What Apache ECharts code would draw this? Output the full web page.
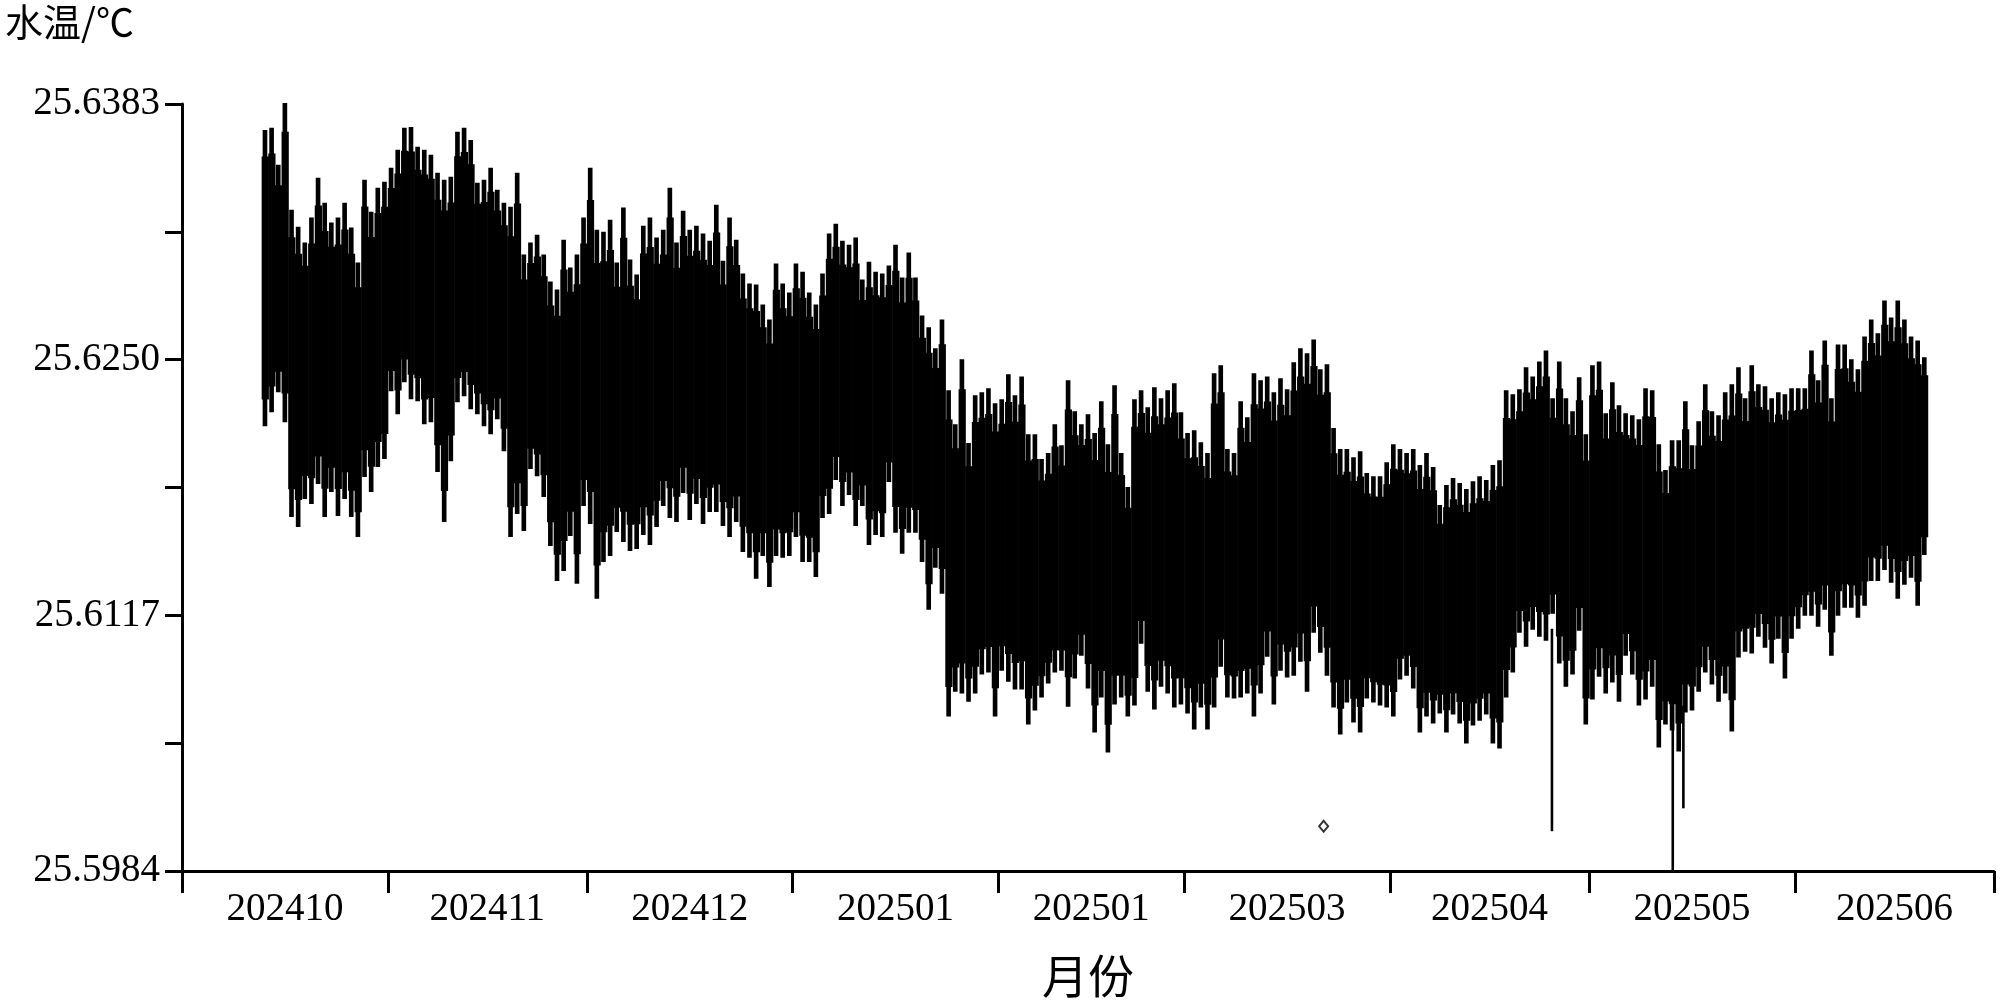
<!DOCTYPE html>
<html>
<head>
<meta charset="utf-8">
<title>水温</title>
<script src="https://cdn.jsdelivr.net/npm/echarts@6/dist/echarts.min.js"></script>
<style>
  html, body { margin: 0; padding: 0; background: #fff; }
  #chart { width: 2000px; height: 1004px; }
</style>
</head>
<body>
<div id="chart"></div>
<script>
// x axis is in days counted from 2024-10-01
var monthEdges = [0, 31, 61, 92, 123, 151, 182, 212, 243, 273]
var monthMids = [15.5, 46, 76.5, 107.5, 137, 166.5, 197, 227.5, 258]
var monthLabels = ['202410', '202411', '202412', '202501', '202501', '202503', '202504', '202505', '202506']

var yTicks = [25.5984, 25.60505, 25.6117, 25.61835, 25.625, 25.63165, 25.6383]
var yLabels = [25.5984, 25.6117, 25.625, 25.6383]

// daily max / min water temperature, first value is day 12
var firstDay = 12
var dailyMax = [
  25.63695, 25.63706, 25.63514, 25.63835, 25.63280, 25.63192, 25.63109, 25.63239, 25.63446, 25.63316,
  25.63213, 25.63239, 25.63316, 25.63187, 25.63005, 25.63436, 25.63270, 25.63394, 25.63425, 25.63498,
  25.63592, 25.63706, 25.63711, 25.63607, 25.63592, 25.63566, 25.63472, 25.63436, 25.63451, 25.63685,
  25.63706, 25.63643, 25.63420, 25.63436, 25.63498, 25.63384, 25.63316, 25.63296, 25.63472, 25.63047,
  25.63109, 25.63150, 25.63047, 25.62906, 25.62865, 25.63124, 25.62979, 25.63047, 25.63239, 25.63498,
  25.63176, 25.63166, 25.63228, 25.63005, 25.63291, 25.63021, 25.62943, 25.63197, 25.63239, 25.63135,
  25.63176, 25.63394, 25.63109, 25.63275, 25.63176, 25.63197, 25.63156, 25.63119, 25.63306, 25.63015,
  25.63239, 25.63124, 25.62948, 25.62896, 25.62891, 25.62787, 25.62709, 25.63000, 25.62896, 25.62849,
  25.63000, 25.62958, 25.62849, 25.62787, 25.62948, 25.63156, 25.63207, 25.63119, 25.63098, 25.63135,
  25.62917, 25.63010, 25.62958, 25.62948, 25.62990, 25.63098, 25.62927, 25.63057, 25.62927, 25.62730,
  25.62668, 25.62559, 25.62709, 25.62341, 25.62164, 25.62502, 25.62066, 25.62315, 25.62330, 25.62351,
  25.62273, 25.62294, 25.62424, 25.62315, 25.62413, 25.62112, 25.62112, 25.61983, 25.62014, 25.62164,
  25.62055, 25.62393, 25.62232, 25.62164, 25.62216, 25.62118, 25.62284, 25.62060, 25.62367, 25.62014,
  25.61837, 25.62294, 25.62341, 25.62253, 25.62357, 25.62299, 25.62341, 25.62377, 25.62227, 25.62118,
  25.62133, 25.62071, 25.62014, 25.62429, 25.62471, 25.62035, 25.62014, 25.62284, 25.62201, 25.62429,
  25.62393, 25.62413, 25.62330, 25.62403, 25.62346, 25.62486, 25.62559, 25.62533, 25.62605, 25.62450,
  25.62476, 25.62144, 25.62035, 25.62035, 25.61993, 25.62024, 25.61910, 25.61894, 25.61894, 25.61967,
  25.62060, 25.62035, 25.62014, 25.62035, 25.61952, 25.62014, 25.61941, 25.61744, 25.61848, 25.61884,
  25.61858, 25.61827, 25.61868, 25.61894, 25.61874, 25.61952, 25.61977, 25.62341, 25.62320, 25.62346,
  25.62460, 25.62413, 25.62491, 25.62548, 25.62299, 25.62491, 25.62299, 25.62232, 25.62408, 25.62112,
  25.62471, 25.62491, 25.62221, 25.62382, 25.62263, 25.62221, 25.62211, 25.62190, 25.62351, 25.62341,
  25.62060, 25.61926, 25.62081, 25.62081, 25.62284, 25.62055, 25.62180, 25.62372, 25.62232, 25.62211,
  25.62330, 25.62372, 25.62460, 25.62299, 25.62471, 25.62372, 25.62362, 25.62299, 25.62330, 25.62320,
  25.62351, 25.62351, 25.62351, 25.62548, 25.62393, 25.62600, 25.62299, 25.62579, 25.62579, 25.62502,
  25.62450, 25.62621, 25.62709, 25.62637, 25.62808, 25.62720, 25.62808, 25.62709, 25.62621, 25.62600, 25.62512
]
var dailyMin = [
  25.62154, 25.62227, 25.62330, 25.62175, 25.61682, 25.61630, 25.61775, 25.61749, 25.61853, 25.61682,
  25.61811, 25.61687, 25.61775, 25.61682, 25.61578, 25.61889, 25.61811, 25.61941, 25.61983, 25.62336,
  25.62216, 25.62382, 25.62294, 25.62284, 25.62164, 25.62175, 25.61915, 25.61656, 25.61972, 25.62278,
  25.62310, 25.62242, 25.62216, 25.62153, 25.62112, 25.62190, 25.62024, 25.61578, 25.61697, 25.61609,
  25.61931, 25.61894, 25.61785, 25.61531, 25.61349, 25.61401, 25.61583, 25.61334, 25.61739, 25.61645,
  25.61256, 25.61448, 25.61479, 25.61604, 25.61552, 25.61505, 25.61515, 25.61588, 25.61536, 25.61630,
  25.61739, 25.61676, 25.61656, 25.61806, 25.61666, 25.61749, 25.61645, 25.61707, 25.61707, 25.61635,
  25.61578, 25.61656, 25.61500, 25.61469, 25.61360, 25.61479, 25.61318, 25.61479, 25.61469, 25.61479,
  25.61578, 25.61448, 25.61448, 25.61370, 25.61676, 25.61697, 25.61874, 25.61739, 25.61796, 25.61635,
  25.61739, 25.61536, 25.61588, 25.61578, 25.61863, 25.61599, 25.61490, 25.61599, 25.61599, 25.61448,
  25.61199, 25.61417, 25.61282, 25.60644, 25.60773, 25.60763, 25.60721, 25.60763, 25.60862, 25.60872,
  25.60644, 25.60882, 25.60825, 25.60784, 25.60784, 25.60602, 25.60675, 25.60742, 25.60815, 25.60872,
  25.60882, 25.60695, 25.60841, 25.60960, 25.60789, 25.60561, 25.60742, 25.60457, 25.60706, 25.60742,
  25.60644, 25.60701, 25.61022, 25.60773, 25.60680, 25.60799, 25.60763, 25.60690, 25.60706, 25.60659,
  25.60576, 25.60690, 25.60576, 25.60690, 25.60903, 25.60742, 25.60737, 25.60742, 25.60763, 25.60644,
  25.60763, 25.60955, 25.60706, 25.60882, 25.60846, 25.60856, 25.60929, 25.60773, 25.61079, 25.60976,
  25.60856, 25.60690, 25.60550, 25.60716, 25.60612, 25.60561, 25.60737, 25.60716, 25.60701, 25.60690,
  25.60644, 25.60836, 25.60856, 25.60789, 25.60561, 25.60644, 25.60607, 25.60659, 25.60561, 25.60654,
  25.60607, 25.60503, 25.60597, 25.60622, 25.60654, 25.60503, 25.60477, 25.60742, 25.60872, 25.61079,
  25.61007, 25.61095, 25.61059, 25.61038, 25.61178, 25.60919, 25.60799, 25.60862, 25.61090, 25.60602,
  25.60732, 25.60851, 25.60763, 25.60820, 25.60721, 25.60960, 25.60862, 25.60701, 25.60732, 25.60799,
  25.60483, 25.60602, 25.60571, 25.60462, 25.60664, 25.60675, 25.60773, 25.60872, 25.60810, 25.60721,
  25.60763, 25.60566, 25.60950, 25.60981, 25.60971, 25.61059, 25.61002, 25.60919, 25.61048, 25.60841,
  25.61048, 25.61100, 25.61168, 25.61168, 25.61111, 25.61199, 25.60960, 25.61168, 25.61209, 25.61209,
  25.61157, 25.61220, 25.61349, 25.61349, 25.61406, 25.61339, 25.61256, 25.61329, 25.61365, 25.61220, 25.61484
]

// single low readings that drop well below the band
var spikeDays = [206.4, 224.6, 226.2]
var spikeFrom = [25.6110, 25.6080, 25.6070]
var spikeTo = [25.60047, 25.5984, 25.60166]

// lone point near 202503
var loneDay = [172.0]
var loneValue = [25.60073]

var bandData = []
for (var i = 0; i < dailyMax.length; i++) {
  bandData.push([firstDay + i, dailyMin[i], dailyMax[i]])
}
var spikeData = []
for (var j = 0; j < spikeDays.length; j++) {
  spikeData.push([spikeDays[j], spikeTo[j], spikeFrom[j]])
}
var loneData = []
for (var k = 0; k < loneDay.length; k++) {
  loneData.push([loneDay[k], loneValue[k]])
}

// each day: a full-width body plus a narrower stroke reaching the daily max/min,
// so the band edges look spiky like the hourly trace
function renderBand (params, api) {
  var d = api.value(0)
  var lo = api.value(1)
  var hi = api.value(2)
  var left = api.coord([d, hi])
  var right = api.coord([d + 1, lo])
  var w = right[0] - left[0]
  var inset = (hi - lo) * 0.09
  var bodyTop = api.coord([d, hi - inset])[1]
  var bodyBottom = api.coord([d, lo + inset])[1]
  return {
    type: 'group',
    children: [
      {
        type: 'rect',
        shape: { x: left[0], y: bodyTop, width: w + 0.6, height: bodyBottom - bodyTop },
        style: { fill: '#000' }
      },
      {
        type: 'rect',
        shape: { x: left[0] + w * 0.15, y: left[1], width: w * 0.7, height: right[1] - left[1] },
        style: { fill: '#000' }
      }
    ]
  }
}

function renderSpike (params, api) {
  var top = api.coord([api.value(0), api.value(2)])
  var bottom = api.coord([api.value(0), api.value(1)])
  return {
    type: 'rect',
    shape: { x: top[0] - 1.3, y: top[1], width: 2.6, height: bottom[1] - top[1] },
    style: { fill: '#000' }
  }
}

var numFont = '"Liberation Serif", "DejaVu Serif", serif'
var cjkFont = '"Noto Sans CJK SC", sans-serif'

var myChart = echarts.init(document.getElementById('chart'))
myChart.setOption({
  animation: false,
  backgroundColor: '#fff',
  title: {
    text: '水温/℃',
    left: 0,
    top: -2,
    textStyle: { fontFamily: cjkFont, fontSize: 38, fontWeight: 'normal', color: '#000' }
  },
  grid: {
    left: 182,
    right: 6,
    top: 104,
    bottom: 131,
    containLabel: false
  },
  xAxis: {
    type: 'value',
    min: 0,
    max: 273,
    name: '月份',
    nameLocation: 'middle',
    nameGap: 82,
    nameTextStyle: { fontFamily: cjkFont, fontSize: 46, color: '#000' },
    splitLine: { show: false },
    axisLine: { lineStyle: { color: '#000', width: 3 } },
    axisTick: {
      customValues: monthEdges,
      length: 22,
      lineStyle: { color: '#000', width: 3 }
    },
    axisLabel: {
      customValues: monthMids,
      margin: 19,
      fontFamily: numFont,
      fontSize: 39,
      color: '#000',
      formatter: function (v) {
        var idx = monthMids.indexOf(v)
        return idx >= 0 ? monthLabels[idx] : ''
      }
    }
  },
  yAxis: {
    type: 'value',
    min: 25.5984,
    max: 25.6383,
    splitLine: { show: false },
    axisLine: { lineStyle: { color: '#000', width: 3 } },
    axisTick: {
      customValues: yTicks,
      length: 17,
      lineStyle: { color: '#000', width: 3 }
    },
    axisLabel: {
      customValues: yLabels,
      margin: 22,
      fontFamily: numFont,
      fontSize: 39,
      color: '#000',
      formatter: function (v) {
        return v.toFixed(4)
      }
    }
  },
  series: [
    {
      name: '水温',
      type: 'custom',
      renderItem: renderBand,
      encode: { x: 0, y: [1, 2] },
      data: bandData
    },
    {
      name: '异常值',
      type: 'custom',
      renderItem: renderSpike,
      encode: { x: 0, y: [1, 2] },
      data: spikeData
    },
    {
      name: '孤立点',
      type: 'scatter',
      symbol: 'diamond',
      symbolSize: [9, 11],
      itemStyle: { color: '#fff', borderColor: '#000', borderWidth: 2 },
      data: loneData
    }
  ]
})
</script>
</body>
</html>
